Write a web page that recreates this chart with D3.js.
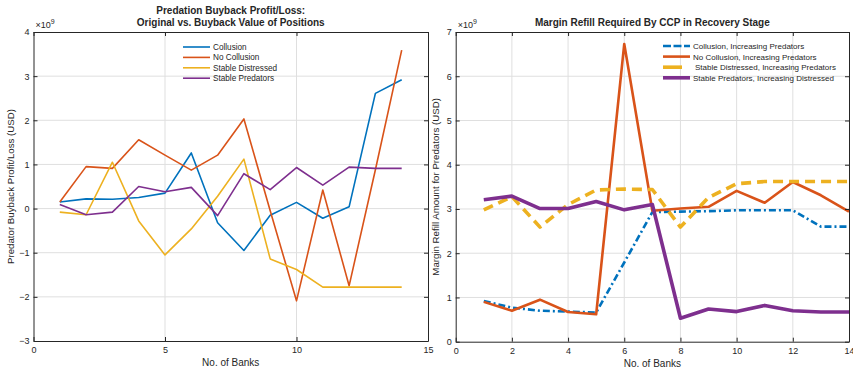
<!DOCTYPE html>
<html>
<head>
<meta charset="utf-8">
<script src="https://cdn.jsdelivr.net/npm/d3@7"></script>
<style>
  html, body { margin: 0; padding: 0; background: #fff; }
  svg text { font-family: "Liberation Sans", Arial, Helvetica, sans-serif; fill: #262626; }
</style>
</head>
<body>
<svg id="chart" width="853" height="370"></svg>
<script>
// Number of banks (x values shared by both panels)
const banks = [1, 2, 3, 4, 5, 6, 7, 8, 9, 10, 11, 12, 13, 14];

// Left panel: predator buyback profit/loss (x10^9 USD)
const profitCollusion   = [0.15, 0.22, 0.21, 0.25, 0.35, 1.26, -0.32, -0.95, -0.15, 0.14, -0.22, 0.04, 2.61, 2.92];
const profitNoCollusion = [0.15, 0.95, 0.91, 1.56, 1.21, 0.87, 1.21, 2.03, -0.05, -2.09, 0.42, -1.75, 0.88, 3.59];
const profitStableDist  = [-0.08, -0.14, 1.05, -0.28, -1.05, -0.46, 0.28, 1.12, -1.14, -1.38, -1.78, -1.78, -1.78, -1.78];
const profitStablePred  = [0.09, -0.14, -0.08, 0.50, 0.38, 0.48, -0.16, 0.79, 0.43, 0.93, 0.53, 0.94, 0.91, 0.91];

// Right panel: margin refill required by CCP (x10^9 USD)
const refillCollusion   = [0.92, 0.77, 0.70, 0.68, 0.66, 1.79, 2.93, 2.94, 2.95, 2.97, 2.97, 2.97, 2.60, 2.60];
const refillNoCollusion = [0.90, 0.70, 0.95, 0.67, 0.62, 6.73, 2.96, 3.01, 3.05, 3.41, 3.14, 3.61, 3.31, 2.94];
const refillStableDist  = [2.98, 3.28, 2.59, 3.10, 3.43, 3.45, 3.44, 2.59, 3.26, 3.57, 3.62, 3.62, 3.62, 3.62];
const refillStablePred  = [3.21, 3.29, 3.01, 3.01, 3.17, 2.98, 3.10, 0.53, 0.74, 0.68, 0.82, 0.70, 0.67, 0.67];

// Axis ticks
const leftXTicks  = [0, 5, 10, 15];
const leftYTicks  = [-3, -2, -1, 0, 1, 2, 3, 4];
const rightXTicks = [0, 2, 4, 6, 8, 10, 12, 14];
const rightYTicks = [0, 1, 2, 3, 4, 5, 6, 7];

const leftNames  = ["Collusion", "No Collusion", "Stable Distressed", "Stable Predators"];
const rightNames = ["Collusion, Increasing Predators", "No Collusion, Increasing Predators",
                    "Stable Distressed, Increasing Predators", "Stable Predators, Increasing Distressed"];
const colors = ["#0072BD", "#D95319", "#EDB120", "#7E2F8E"];

const svg = d3.select("#chart");
const axisColor = "#262626";
const gridColor = "#dfdfdf";
const fmt = d3.format("~g");

function panel(opts) {
  const { x0, x1, y0, y1, xDomain, yDomain, xTicks, yTicks } = opts;
  const x = d3.scaleLinear().domain(xDomain).range([x0, x1]);
  const y = d3.scaleLinear().domain(yDomain).range([y1, y0]);
  const g = svg.append("g");

  // grid
  g.append("g").selectAll("line").data(xTicks.slice(1, -1)).join("line")
    .attr("x1", d => x(d)).attr("x2", d => x(d)).attr("y1", y0).attr("y2", y1)
    .attr("stroke", gridColor).attr("stroke-width", 1);
  g.append("g").selectAll("line").data(yTicks.slice(1, -1)).join("line")
    .attr("x1", x0).attr("x2", x1).attr("y1", d => y(d)).attr("y2", d => y(d))
    .attr("stroke", gridColor).attr("stroke-width", 1);

  // series
  opts.series.forEach(s => {
    const line = d3.line().x((d, i) => x(banks[i])).y(d => y(d));
    g.append("path").datum(s.values)
      .attr("d", line)
      .attr("fill", "none")
      .attr("stroke", s.color)
      .attr("stroke-width", s.width)
      .attr("stroke-dasharray", s.dash || null)
      .attr("stroke-linejoin", "round");
  });

  // axes with inward ticks on all four sides
  const tl = 4;
  const bottom = d3.axisBottom(x).tickValues(xTicks).tickFormat(fmt).tickSizeInner(-tl).tickSizeOuter(0).tickPadding(6);
  const top = d3.axisTop(x).tickValues(xTicks).tickSizeInner(-tl).tickSizeOuter(0).tickFormat("");
  const left = d3.axisLeft(y).tickValues(yTicks).tickFormat(fmt).tickSizeInner(-tl).tickSizeOuter(0).tickPadding(4);
  const right = d3.axisRight(y).tickValues(yTicks).tickSizeInner(-tl).tickSizeOuter(0).tickFormat("");

  const styleAxis = sel => {
    sel.select(".domain").attr("stroke", axisColor).attr("stroke-width", 1);
    sel.selectAll(".tick line").attr("stroke", axisColor);
    sel.selectAll(".tick text").attr("fill", axisColor).style("font-size", "9px")
      .style("font-family", "'Liberation Sans', Arial, sans-serif");
  };
  g.append("g").attr("transform", `translate(0,${y1})`).call(bottom).call(styleAxis);
  g.append("g").attr("transform", `translate(0,${y0})`).call(top).call(styleAxis);
  g.append("g").attr("transform", `translate(${x0},0)`).call(left).call(styleAxis);
  g.append("g").attr("transform", `translate(${x1},0)`).call(right).call(styleAxis);

  // exponent marker
  const ex = g.append("text").attr("x", x0 + 2).attr("y", y0 - 4).style("font-size", "9px");
  ex.append("tspan").text("\u00d710");
  ex.append("tspan").attr("dy", -4).style("font-size", "7px").text("9");

  // axis labels
  g.append("text").attr("x", (x0 + x1) / 2).attr("y", y1 + 25)
    .attr("text-anchor", "middle").style("font-size", "10px").text("No. of Banks");
  g.append("text").attr("transform", `translate(${opts.yLabelX},${(y0 + y1) / 2}) rotate(-90)`)
    .attr("text-anchor", "middle").style("font-size", "9.7px").text(opts.yLabel);

  // title
  opts.title.forEach((t, i) => {
    g.append("text").attr("x", (x0 + x1) / 2).attr("y", opts.titleY + i * 12)
      .attr("text-anchor", "middle").style("font-size", "10px").style("font-weight", "bold").text(t);
  });

  // legend
  const lg = opts.legend;
  opts.series.forEach((s, i) => {
    const ly = lg.y + i * lg.dy;
    g.append("line").attr("x1", lg.x).attr("x2", lg.x + (s.legendLen || lg.len)).attr("y1", ly).attr("y2", ly)
      .attr("stroke", s.color).attr("stroke-width", s.width).attr("stroke-dasharray", s.legendDash || null);
    g.append("text").attr("x", lg.x + lg.len + (s.legendGap || 3)).attr("y", ly + 3)
      .style("font-size", lg.font).text(s.name);
  });
}

panel({
  x0: 33.5, x1: 428, y0: 32, y1: 341,
  xDomain: [0, 15], yDomain: [-3, 4], xTicks: leftXTicks, yTicks: leftYTicks,
  title: ["Predation Buyback Profit/Loss:", "Original vs. Buyback Value of Positions"], titleY: 14,
  yLabel: "Predator Buyback Profit/Loss (USD)", yLabelX: 14,
  legend: { x: 183, y: 47, dy: 10.4, len: 27, font: "8.2px" },
  series: [
    { name: leftNames[0], values: profitCollusion, color: colors[0], width: 1.6 },
    { name: leftNames[1], values: profitNoCollusion, color: colors[1], width: 1.6 },
    { name: leftNames[2], values: profitStableDist, color: colors[2], width: 1.6 },
    { name: leftNames[3], values: profitStablePred, color: colors[3], width: 1.6 }
  ]
});

panel({
  x0: 455.7, x1: 849, y0: 32, y1: 341.7,
  xDomain: [0, 14], yDomain: [0, 7], xTicks: rightXTicks, yTicks: rightYTicks,
  title: ["Margin Refill Required By CCP in Recovery Stage"], titleY: 26,
  yLabel: "Margin Refill Amount for  Predators (USD)", yLabelX: 439,
  legend: { x: 663, y: 46, dy: 10.6, len: 27, font: "8px" },
  series: [
    { name: rightNames[0], values: refillCollusion, color: colors[0], width: 2.6, dash: "7,3,2,3", legendDash: "8,2.5" },
    { name: rightNames[1], values: refillNoCollusion, color: colors[1], width: 2.6 },
    { name: rightNames[2], values: refillStableDist, color: colors[2], width: 3.6, dash: "10,6", legendLen: 19, legendGap: 5 },
    { name: rightNames[3], values: refillStablePred, color: colors[3], width: 3.6 }
  ]
});
</script>
</body>
</html>
